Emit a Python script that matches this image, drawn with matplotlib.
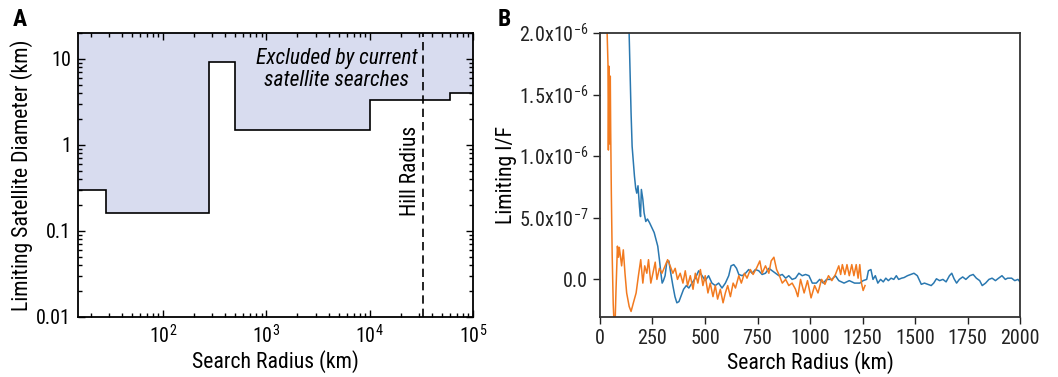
import matplotlib
matplotlib.use('Agg')
import matplotlib.pyplot as plt
from matplotlib import font_manager
import numpy as np

# pick a narrow face if there is one
names = {f.name for f in font_manager.fontManager.ttflist}
narrow = [n for n in ['Liberation Sans Narrow', 'Roboto Condensed', 'DejaVu Sans'] if n in names]
plt.rcParams['font.family'] = narrow
plt.rcParams['font.stretch'] = 'condensed'
plt.rcParams['mathtext.fontset'] = 'custom'
plt.rcParams['mathtext.rm'] = narrow[0] + ':stretch=condensed'
plt.rcParams['mathtext.it'] = narrow[0] + ':italic:stretch=condensed'

# Panel A: limiting satellite diameter vs search radius
radius_edges = [15, 28, 280, 500, 1e4, 6e4, 1e5]
diameter_km = [0.3, 0.16, 9.3, 1.5, 3.3, 4.0]
hill_radius = 3.3e4
a_xticks = [1e2, 1e3, 1e4, 1e5]
a_yticks = [0.01, 0.1, 1, 10]
a_yticklabels = ['0.01', '0.1', '1', '10']

# Panel B: limiting I/F (units of 1e-7) vs search radius
blue_km = [138, 143, 148, 153, 159, 164, 170, 175, 181, 188, 193, 197, 204, 210,
           218, 226, 236, 247, 258, 267, 275, 283, 290, 296, 302, 310, 318, 328,
           337, 347, 357, 366, 376, 385, 398, 411, 423, 438, 454, 470, 486, 501,
           517, 533, 549, 565, 581, 597, 613, 624, 637, 650, 661, 677, 693, 708,
           724, 740, 756, 772, 788, 804, 820, 836, 852, 868, 884, 899, 915, 931,
           947, 963, 979, 995, 1011, 1030, 1046, 1063, 1079, 1104, 1121, 1137,
           1162, 1187, 1212, 1237, 1253, 1270, 1278, 1290, 1300, 1311, 1323, 1336,
           1349, 1361, 1373, 1386, 1399, 1411, 1422, 1436, 1448, 1464, 1480, 1495,
           1511, 1519, 1530, 1545, 1561, 1577, 1589, 1602, 1617, 1633, 1648, 1664,
           1675, 1686, 1698, 1711, 1727, 1742, 1761, 1777, 1792, 1808, 1820, 1836,
           1852, 1867, 1883, 1898, 1914, 1930, 1941, 1960, 1975, 1990, 2000]
blue_if = [20.5, 17.0, 13.5, 10.8, 9.5, 8.4, 7.4, 7.0, 7.6, 5.9, 5.1, 7.3, 6.5, 5.4,
           4.7, 4.9, 4.6, 4.2, 3.8, 3.2, 2.7, 1.6, 0.5, -0.3, -0.1, 0.3, 1.4, 1.5,
           0.5, -0.5, -1.4, -1.9, -1.8, -1.4, -0.8, -0.5, -0.7, -0.3, 0.1, 0.7, 0.3,
           -0.1, 0.3, -0.3, -0.5, -0.3, -0.7, -0.3, 0.3, 1.1, 1.2, 0.9, 0.4, 0.3,
           0.5, 0.8, 0.5, 0.8, 0.7, 0.4, 0.5, 0.9, 0.7, 0.5, 0.3, 0.4, 0.1, 0.3, 0.0,
           0.1, 0.5, 0.3, 0.4, 0.3, -0.3, -0.3, 0.0, -0.3, 0.0, 0.0, 0.3, -0.1,
           -0.3, -0.1, -0.3, -0.3, -0.1, 0.0, 0.7, 0.8, 0.0, 0.3, -0.3, 0.0,
           -0.2, 0.1, -0.1, 0.1, 0.0, 0.3, 0.0, 0.1, 0.15, 0.3, 0.4, 0.5,
           0.3, 0.0, -0.4, -0.3, -0.4, -0.5, -0.3, 0.05, -0.1, 0.0, -0.2, 0.3,
           0.5, 0.05, -0.3, 0.0, 0.2, 0.0, 0.3, 0.4, 0.1, -0.1, -0.5, -0.3,
           0.0, 0.1, -0.1, 0.1, 0.3, 0.0, 0.1, 0.1, -0.1, 0.0, -0.2]

orange_km = [30, 34, 38, 40, 43, 46, 49, 51, 54, 58, 63, 68, 72, 76, 83, 88, 92,
             95, 103, 111, 119, 127, 139, 148, 159, 172, 183, 194, 204, 213, 223,
             231, 242, 252, 263, 271, 283, 295, 310, 322, 334, 347, 358, 369, 382,
             395, 406, 417, 430, 443, 454, 466, 478, 490, 501, 514, 525, 538, 549,
             560, 573, 586, 597, 608, 621, 634, 645, 661, 673, 688, 700, 716, 729,
             745, 761, 772, 788, 804, 815, 828, 841, 852, 868, 884, 899, 915, 931,
             942, 955, 972, 988, 1005, 1022, 1038, 1055, 1071, 1088, 1104, 1121,
             1137, 1146, 1154, 1166, 1176, 1187, 1199, 1209, 1220, 1229, 1237,
             1245, 1253, 1262]
orange_if = [23.0, 20.0, 17.5, 10.5, 17.3, 11.0, 16.5, 12.0, 7.0, 2.0, -2.0, -4.0,
             -3.5, -1.0, 2.7, 1.8, 2.6, 2.2, 1.1, 2.4, 0.5, -1.1, -2.2, -2.6, -1.9,
             -1.1, 0.3, 1.6, -0.3, 1.1, 0.5, 1.6, -0.3, 0.5, 1.4, 0.0, 0.9, 0.5,
             1.1, 1.6, 1.1, 0.5, 0.9, 0.0, 0.5, -0.3, 0.7, -0.5, 0.3, -0.8, 0.5,
             -0.3, 0.8, -0.5, 0.3, -1.1, -0.3, -1.4, -0.5, -1.6, -0.8, -1.9, -1.1,
             -0.5, -1.4, -0.3, -0.7, 0.3, -0.3, 0.5, 0.1, 0.8, 0.4, 0.9, 1.5, 0.5,
             1.1, 0.5, 1.5, 1.8, 0.8, 0.4, -0.3, 0.0, -0.5, -0.3, -0.8, -1.4, 0.0,
             -1.1, -0.1, -1.5, -0.5, -1.1, 0.0, -0.4, 0.3, -0.1, 0.4, 1.1, 0.4,
             1.2, 0.4, 1.2, 0.3, 1.2, 0.3, 1.2, 0.1, 1.2, -0.3, -0.9, -0.5]

b_yticks = [0, 5e-7, 1e-6, 1.5e-6, 2e-6]
b_yticklabels = ['0.0', '5.0x10$^{-7}$', '1.0x10$^{-6}$', '1.5x10$^{-6}$',
                 '2.0x10$^{-6}$']
b_xticks = [0, 250, 500, 750, 1000, 1250, 1500, 1750, 2000]

fig = plt.figure(figsize=(10.58, 3.77), dpi=100)

# ---- Panel A ----
ax1 = fig.add_axes([0.0737, 0.1592, 0.3733, 0.7533])
ax1.set_xscale('log')
ax1.set_yscale('log')
ax1.set_xlim(15, 1e5)
ax1.set_ylim(0.01, 20)
ax1.stairs(diameter_km, radius_edges, baseline=20, fill=True,
           color='#d8dcef', linewidth=0)
ax1.stairs(diameter_km, radius_edges, baseline=None, color='black', linewidth=1.2)
ax1.axvline(hill_radius, color='black', linestyle=(0, (5, 3)), linewidth=1.2)
ax1.text(4800, 7.5, 'Excluded by current\nsatellite searches', style='italic',
         ha='center', va='center', fontsize=15.5, linespacing=1.1)
ax1.text(25000, 0.5, 'Hill Radius', rotation=90, ha='center', va='center',
         fontsize=15.5)
ax1.set_xticks(a_xticks)
ax1.set_yticks(a_yticks)
ax1.set_yticklabels(a_yticklabels)
ax1.tick_params(which='both', direction='in', top=True, right=True,
                labelsize=14.5, width=1)
ax1.tick_params(which='major', length=5, pad=5)
ax1.tick_params(which='minor', length=3)
for s in ax1.spines.values():
    s.set_linewidth(1.3)
ax1.set_xlabel('Search Radius (km)', fontsize=15.7, labelpad=2)
ax1.set_ylabel('Limiting Satellite Diameter (km)', fontsize=15.7, labelpad=2)
fig.text(0.012, 0.93, 'A', fontsize=17, fontweight='bold')

# ---- Panel B ----
ax2 = fig.add_axes([0.5671, 0.1592, 0.397, 0.7533])
ax2.plot(np.array(blue_km), np.array(blue_if) * 1e-7, color='#2a78b0', linewidth=1.1)
ax2.plot(np.array(orange_km), np.array(orange_if) * 1e-7, color='#f27a1f',
         linewidth=1.1)
ax2.set_xlim(0, 2000)
ax2.set_ylim(-3.05e-7, 2e-6)
ax2.set_xticks(b_xticks)
ax2.set_yticks(b_yticks)
ax2.set_yticklabels(b_yticklabels)
ax2.tick_params(direction='out', length=5, width=1, labelsize=14.5, colors='#222222')
for s in ax2.spines.values():
    s.set_linewidth(1.3)
    s.set_color('#333333')
ax2.set_xlabel('Search Radius (km)', fontsize=15.7, labelpad=2)
ax2.set_ylabel('Limiting I/F', fontsize=15.7, labelpad=1)
fig.text(0.47, 0.93, 'B', fontsize=17, fontweight='bold')

fig.savefig('out.png', dpi=100)
